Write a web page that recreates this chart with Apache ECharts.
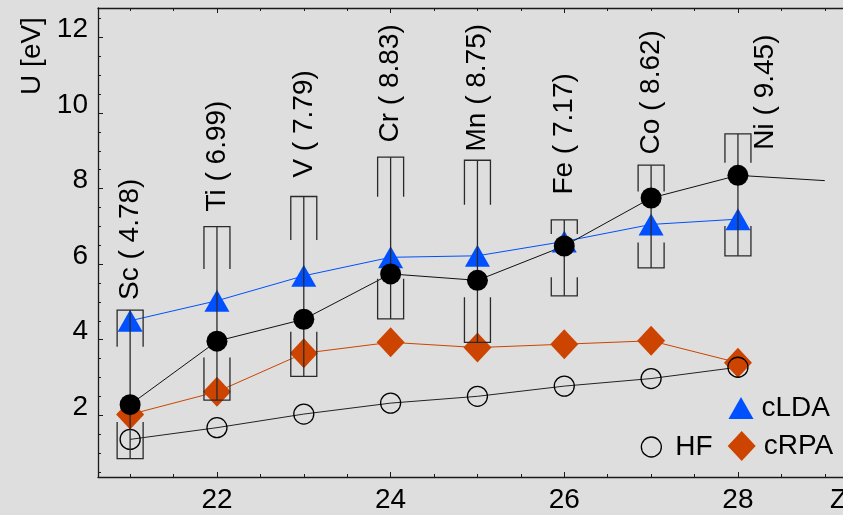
<!DOCTYPE html>
<html>
<head>
<meta charset="utf-8">
<script src="https://cdn.jsdelivr.net/npm/echarts@6/dist/echarts.min.js"></script>
<style>
html,body{margin:0;padding:0;background:#dedede;}
#c{width:843px;height:515px;}
</style>
</head>
<body>
<div id="c"></div>
<script>
// ---- data ----
const Z = [21, 22, 23, 24, 25, 26, 27, 28];
const elements = ['Sc', 'Ti', 'V', 'Cr', 'Mn', 'Fe', 'Co', 'Ni'];
const uValues = [4.78, 6.99, 7.79, 8.83, 8.75, 7.17, 8.62, 9.45];
const capTopEnd = [3.81, 5.87, 6.64, 7.78, 7.57, 6.80, 7.92, 8.68];
const capBotStart = [1.82, 3.53, 4.21, 5.61, 5.12, 5.65, 6.57, 7.01];
const errBottom = [0.85, 2.40, 3.03, 4.55, 3.93, 5.16, 5.90, 6.22];
const labelZ = [21, 22, 23, 24, 25, 26, 27, 28.32];
const labelU = [5.05, 7.39, 8.29, 9.22, 8.98, 7.84, 8.90, 9.03];
const filledU = [2.28, 3.96, 4.54, 5.74, 5.57, 6.48, 7.75, 8.35];
const tailZ = [29];
const tailU = [8.21];
const cLDA = [4.50, 5.03, 5.69, 6.18, 6.22, 6.60, 7.05, 7.19];
const cRPA = [2.02, 2.62, 3.64, 3.93, 3.79, 3.88, 3.97, 3.39];
const HF = [1.36, 1.67, 2.03, 2.32, 2.50, 2.77, 2.97, 3.27];
const xTickLabels = [22, 24, 26, 28];
const yTickLabels = [2, 4, 6, 8, 10, 12];

// ---- helpers ----
const FONT = 'Liberation Sans';
const X_MIN = 20.63, X_MAX = 29.21, Y_MIN = 0.364, Y_MAX = 12.78;
const range = (a, b, s) => { const r = []; for (let v = a; v <= b + 1e-9; v += s) r.push(+v.toFixed(2)); return r; };
const xMajor = range(22, 28, 2);
const xMinor = range(21, 29, 0.5);
const yMajor = range(2, 12, 2);
const yMinor = range(0.5, 12.5, 0.5);
const pairs = (xs, ys) => xs.map((x, i) => [x, ys[i]]);

const BLUE = '#0050ff', ORANGE = '#cc4400', AXIS = '#1a1a1a';

function xAxisDef(pos, ticks, len, withLabels, withLine) {
  return {
    type: 'value', position: pos, min: X_MIN, max: X_MAX,
    axisLine: { show: withLine, lineStyle: { color: AXIS, width: 1.3 } },
    axisTick: { show: true, inside: true, length: len, customValues: ticks, lineStyle: { color: AXIS, width: 1 } },
    axisLabel: withLabels ? { show: true, customValues: xTickLabels, fontSize: 28, fontFamily: FONT, color: '#000', margin: 9 } : { show: false },
    splitLine: { show: false }
  };
}
function yAxisDef(ticks, len, withLabels, withLine) {
  return {
    type: 'value', position: 'left', min: Y_MIN, max: Y_MAX,
    axisLine: { show: withLine, lineStyle: { color: AXIS, width: 1.3 } },
    axisTick: { show: true, inside: true, length: len, customValues: ticks, lineStyle: { color: AXIS, width: 1 } },
    axisLabel: withLabels ? { show: true, customValues: yTickLabels, fontSize: 28, fontFamily: FONT, color: '#000', margin: 10, verticalAlign: 'bottom', lineHeight: 16 } : { show: false },
    splitLine: { show: false }
  };
}

const xMain = xAxisDef('bottom', xMajor, 5, true, true);
xMain.name = 'Z';
xMain.nameLocation = 'end';
xMain.nameGap = -13;
xMain.nameTextStyle = { fontSize: 28, fontFamily: FONT, color: '#000', align: 'left', verticalAlign: 'top', padding: [9, 0, 0, 0] };

const yMain = yAxisDef(yMajor, 5, true, true);
yMain.name = 'U [eV]';
yMain.nameLocation = 'end';
yMain.nameGap = -48;
yMain.nameRotate = 90;
yMain.nameTextStyle = { fontSize: 28, fontFamily: FONT, color: '#000', align: 'center', verticalAlign: 'bottom', padding: [0, 0, 52, 0] };

const chart = echarts.init(document.getElementById('c'), null, { renderer: 'canvas' });
chart.setOption({
  animation: false,
  backgroundColor: '#dedede',
  grid: { left: 98, right: 0, top: 8, bottom: 38, containLabel: false, outerBoundsMode: 'none' },
  xAxis: [
    xMain,
    xAxisDef('bottom', xMinor, 3, false, false),
    xAxisDef('top', xMajor, 5, false, true),
    xAxisDef('top', xMinor, 3, false, false)
  ],
  yAxis: [
    yMain,
    yAxisDef(yMinor, 3, false, false)
  ],
  legend: [
    {
      data: ['cLDA'], selectedMode: false, orient: 'horizontal',
      left: 728.5, top: 394, padding: 0, itemWidth: 25, itemHeight: 22,
      textStyle: { fontSize: 28, fontFamily: FONT, color: '#000', padding: [0, 0, 0, 3] }
    },
    {
      data: [{ name: 'HF', icon: 'circle', itemStyle: { color: 'rgba(0,0,0,0)', borderColor: '#000', borderWidth: 1.3 } }],
      selectedMode: false, left: 640.7, top: 433, padding: 0, itemWidth: 20, itemHeight: 20,
      textStyle: { fontSize: 28, fontFamily: FONT, color: '#000', padding: [0, 0, 0, 9] }
    },
    {
      data: ['cRPA'], selectedMode: false, left: 727.7, top: 431, padding: 0, itemWidth: 28, itemHeight: 30,
      textStyle: { fontSize: 28, fontFamily: FONT, color: '#000', padding: [0, 0, 0, 3] }
    }
  ],
  series: [
    { name: 'cLDA-line', type: 'line', data: pairs(Z, cLDA), symbol: 'none', lineStyle: { color: BLUE, width: 1 }, z: 2 },
    { name: 'cRPA-line', type: 'line', data: pairs(Z, cRPA), symbol: 'none', lineStyle: { color: ORANGE, width: 1 }, z: 2 },
    { name: 'HF-line', type: 'line', data: pairs(Z, HF), symbol: 'none', lineStyle: { color: '#222', width: 1 }, z: 2 },
    { name: 'U-line', type: 'line', data: pairs(Z.concat(tailZ), filledU.concat(tailU)), symbol: 'none', lineStyle: { color: '#111', width: 1 }, z: 2 },
    { name: 'cLDA', type: 'scatter', data: pairs(Z, cLDA), symbol: 'triangle', symbolSize: [25, 22], itemStyle: { color: BLUE, opacity: 1 }, z: 3 },
    { name: 'cRPA', type: 'scatter', data: pairs(Z, cRPA), symbol: 'diamond', symbolSize: [28, 30], itemStyle: { color: ORANGE, opacity: 1 }, z: 3 },
    { name: 'HF', type: 'scatter', data: pairs(Z, HF), symbol: 'circle', symbolSize: 20, itemStyle: { color: 'rgba(0,0,0,0)', borderColor: '#000', borderWidth: 1.3, opacity: 1 }, z: 4 },
    {
      name: 'range', type: 'custom', z: 5,
      data: Z.map((z, i) => [z, uValues[i], capTopEnd[i], capBotStart[i], errBottom[i]]),
      encode: { x: 0, y: [1, 4] },
      renderItem: function (params, api) {
        const z = api.value(0);
        const pT = api.coord([z, api.value(1)]);
        const pTE = api.coord([z, api.value(2)]);
        const pBS = api.coord([z, api.value(3)]);
        const pB = api.coord([z, api.value(4)]);
        const x = pT[0], w = 13;
        const st = { stroke: '#2a2a2a', lineWidth: 1.3, fill: null };
        return {
          type: 'group',
          children: [
            { type: 'polyline', shape: { points: [[x, pT[1]], [x, pB[1]]] }, style: st },
            { type: 'polyline', shape: { points: [[x - w, pTE[1]], [x - w, pT[1]], [x + w, pT[1]], [x + w, pTE[1]]] }, style: st },
            { type: 'polyline', shape: { points: [[x - w, pBS[1]], [x - w, pB[1]], [x + w, pB[1]], [x + w, pBS[1]]] }, style: st }
          ]
        };
      }
    },
    { name: 'U', type: 'scatter', data: pairs(Z, filledU), symbol: 'circle', symbolSize: 21, itemStyle: { color: '#000', opacity: 1 }, z: 6 },
    {
      name: 'labels', type: 'scatter', z: 7, symbolSize: 1, itemStyle: { color: 'rgba(0,0,0,0)', opacity: 1 },
      data: labelZ.map((z, i) => ({ value: [z, labelU[i]], name: elements[i] + ' ( ' + uValues[i].toFixed(2) + ')' })),
      label: {
        show: true, position: 'inside', rotate: 90, align: 'left', verticalAlign: 'middle',
        fontSize: 28, fontFamily: FONT, color: '#000', opacity: 1, textBorderWidth: 0,
        formatter: p => p.name
      }
    }
  ]
});
</script>
</body>
</html>
